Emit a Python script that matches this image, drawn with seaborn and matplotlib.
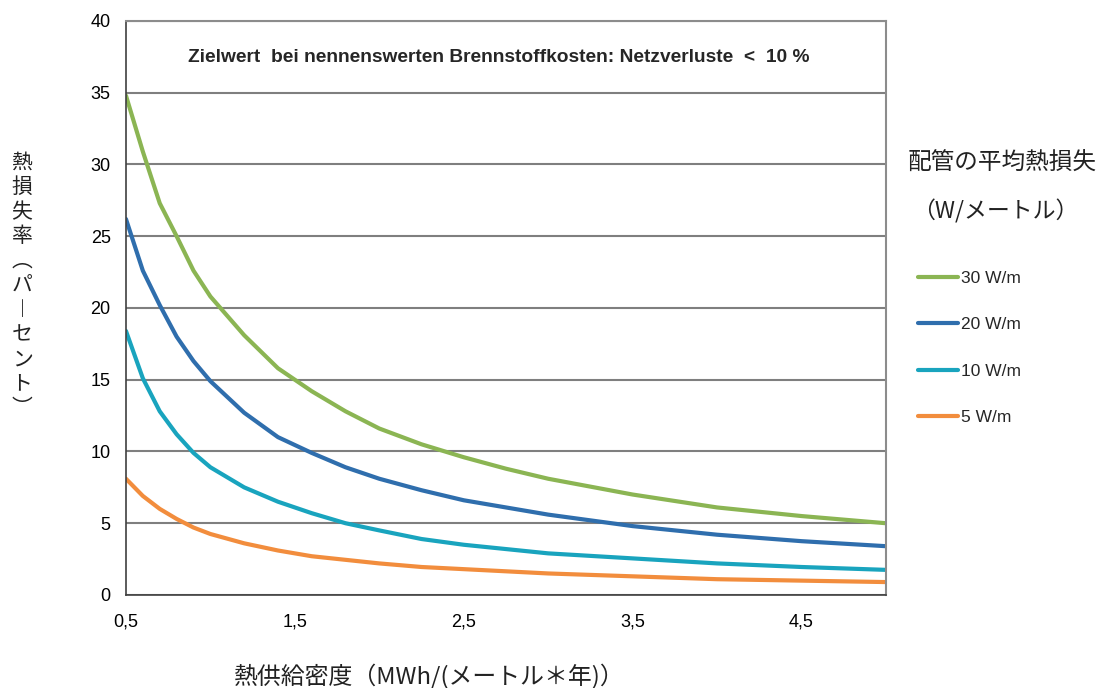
import matplotlib
matplotlib.use("Agg")
import matplotlib.pyplot as plt
import numpy as np
import pandas as pd
import seaborn as sns

# Data
density = [0.5, 0.6, 0.7, 0.8, 0.9, 1.0, 1.2, 1.4, 1.6, 1.8, 2.0,
           2.25, 2.5, 2.75, 3.0, 3.5, 4.0, 4.5, 5.0]
loss_30 = [34.8, 30.9, 27.3, 25.0, 22.6, 20.8, 18.1, 15.8, 14.2, 12.8, 11.6,
           10.5, 9.6, 8.8, 8.1, 7.0, 6.1, 5.5, 5.0]
loss_20 = [26.2, 22.6, 20.2, 18.0, 16.3, 14.9, 12.7, 11.0, 9.9, 8.9, 8.1,
           7.3, 6.6, 6.1, 5.6, 4.8, 4.2, 3.75, 3.4]
loss_10 = [18.4, 15.1, 12.8, 11.2, 9.9, 8.9, 7.5, 6.5, 5.7, 5.0, 4.5,
           3.9, 3.5, 3.2, 2.9, 2.55, 2.2, 1.95, 1.75]
loss_5 = [8.1, 6.9, 6.0, 5.3, 4.7, 4.25, 3.6, 3.1, 2.7, 2.45, 2.2,
          1.95, 1.8, 1.65, 1.5, 1.3, 1.1, 1.0, 0.9]
series_names = ["30 W/m", "20 W/m", "10 W/m", "5 W/m"]
series_colors = ["#8BB553", "#2F6EAD", "#19A4BE", "#F28D3D"]
x_tick_labels = ["0,5", "1,5", "2,5", "3,5", "4,5"]

df = pd.concat([
    pd.DataFrame({"x": density, "y": vals, "series": name})
    for name, vals in zip(series_names, [loss_30, loss_20, loss_10, loss_5])
])

sns.set_style("white")
plt.rcParams["font.family"] = ["Liberation Sans", "Noto Sans CJK JP", "DejaVu Sans"]
jp = ["Noto Sans CJK JP", "DejaVu Sans"]

fig = plt.figure(figsize=(11.01, 6.88), dpi=100)
ax = fig.add_axes([0.1144, 0.1352, 0.6903, 0.8343])

sns.lineplot(data=df, x="x", y="y", hue="series", hue_order=series_names,
             palette=series_colors, linewidth=3, ax=ax, legend=False)

ax.set_xlim(0.5, 5.0)
ax.set_ylim(0, 40)
ax.set_yticks(np.arange(0, 41, 5))
ax.set_xticks(np.arange(0.5, 5.01, 0.25))
ax.set_xticklabels([x_tick_labels[i // 4] if i % 4 == 0 else "" for i in range(19)])
ax.yaxis.grid(True, color="#7f7f7f", linewidth=1.5)
ax.tick_params(axis="both", direction="out", length=5, width=1, colors="#404040",
               labelsize=13, labelcolor="black")
ax.tick_params(axis="x", pad=8)
ax.tick_params(axis="y", pad=6)
ax.set_xlabel("")
ax.set_ylabel("")
for side in ["left", "bottom"]:
    ax.spines[side].set_color("#404040")
    ax.spines[side].set_linewidth(1.2)
for side in ["right", "top"]:
    ax.spines[side].set_color("#8c8c8c")
    ax.spines[side].set_linewidth(1.5)

ax.text(0.49, 0.937, "Zielwert  bei nennenswerten Brennstoffkosten: Netzverluste  <  10 %",
        transform=ax.transAxes, ha="center", va="center", fontsize=13.8, fontweight="bold")

# Vertical Japanese y label
ylab = "熱損失率︵パ︱セント︶"
fig.text(0.02, 0.585, "\n".join(ylab), ha="center", va="center", fontsize=15,
         family=jp, linespacing=1.15, color="#222222")

fig.text(0.39, 0.016, "熱供給密度（MWh/(メートル＊年)）", ha="center", va="center",
         fontsize=17.2, family=jp, color="#222222")

fig.text(0.824, 0.763, "配管の平均熱損失", ha="left", va="center", fontsize=17,
         family=jp, color="#222222")
fig.text(0.828, 0.692, "（W/メートル）", ha="left", va="center", fontsize=16.5,
         family=jp, color="#222222")

handles = [plt.Line2D([], [], color=c, linewidth=3) for c in series_colors]
fig.legend(handles, series_names, loc="upper left", bbox_to_anchor=(0.8195, 0.629),
           frameon=False, fontsize=12.5, handlelength=2.3, handletextpad=0.2,
           labelspacing=1.8)

fig.savefig("out.png", dpi=100)
